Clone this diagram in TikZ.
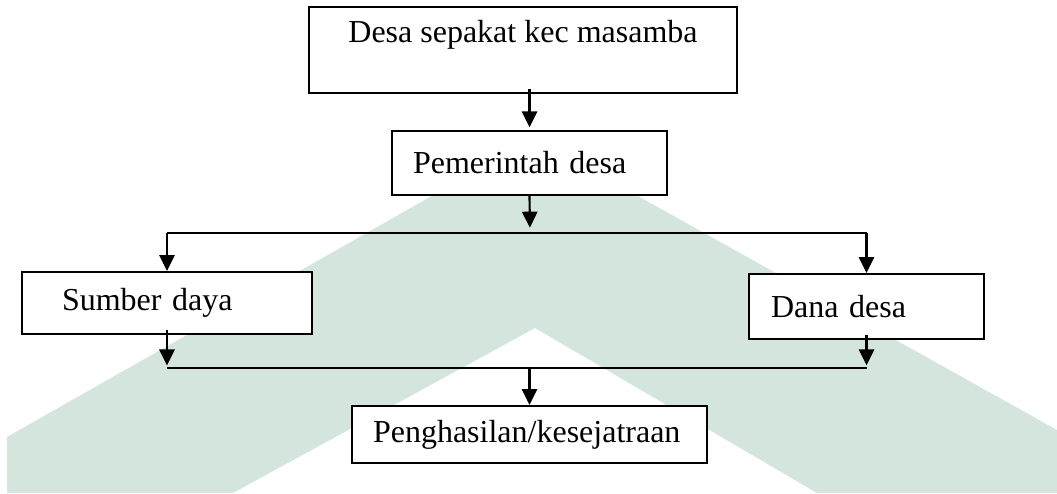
\documentclass[tikz,border=0pt]{standalone}
\usepackage{fontspec}
\setmainfont{Liberation Serif}
\usetikzlibrary{arrows.meta, positioning, calc}
\definecolor{wmteal}{RGB}{211,229,221}

\begin{document}
\begin{tikzpicture}[x=0.75pt, y=-0.75pt, >={Triangle[length=12pt,width=11.5pt]},
  box/.style={draw, line width=1.5pt, fill=white, font=\fontsize{24}{28}\selectfont, inner ysep=0pt},
  link/.style={line width=1.6pt}]
  \useasboundingbox (0,0) rectangle (1057,493);
  % watermark in the background
  \fill[wmteal] (534,138) -- (1057,430) -- (1057,493) -- (817,493) -- (535,328)
    -- (233,493) -- (7,493) -- (7,437) -- cycle;

  % boxes
  \node[box, minimum width=321pt, minimum height=64.5pt, text height=16.4pt, text depth=27pt] (desa) at (523,50) {Desa sepakat kec masamba};
  \node[box, minimum width=206.25pt, minimum height=48pt, inner xsep=15.75pt, text width=174.75pt, align=left] (pem) at (529.5,163) {Pemerintah desa};
  \node[box, minimum width=217.5pt, minimum height=46.5pt, inner xsep=30pt, text width=157.5pt, align=left] (sd) at (167,303) {Sumber daya};
  \node[box, minimum width=176.25pt, minimum height=48.75pt, inner xsep=16.5pt, text width=143.25pt, align=left] (dd) at (866.5,306.5) {Dana desa};
  \node[box, minimum width=266.25pt, minimum height=42.75pt, inner xsep=15.75pt, text width=234.75pt, align=left] (ph) at (529.5,434.5) {Penghasilan/kesejatraan};

  % branch lines
  \coordinate (split) at (530,233);
  \coordinate (join) at (526,368);

  \draw[link,->,shorten >=2pt] ([yshift=4pt]pem.north |- desa.south) -- (pem.north);
  \draw[link,->,shorten >=4pt] (pem.south) -- (split);
  \draw[link] (sd.north |- split) -- (dd.north |- split);
  \draw[link,->] (sd.north |- split) -- (sd.north);
  \draw[link,->] (dd.north |- split) -- (dd.north);
  \draw[link,->,shorten >=2pt] ([yshift=4pt]sd.south) -- (sd.south |- join);
  \draw[link] (sd.south |- join) -- (dd.south |- join);
  \draw[link,->,shorten >=2pt] ([yshift=4pt]dd.south) -- (dd.south |- join);
  \draw[link,->] (ph.north |- join) -- (ph.north);
\end{tikzpicture}
\end{document}
